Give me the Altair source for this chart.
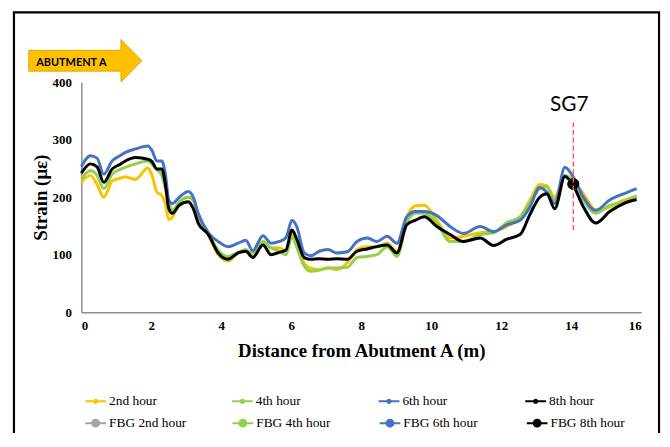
import altair as alt
import pandas as pd

# ---- data ----
distance = [0, 0.26, 0.45, 0.64, 0.88, 1.1, 1.26, 1.55, 1.9, 2.02,
            2.16, 2.3, 2.4, 2.5, 2.6, 2.8, 3.06, 3.2, 3.34, 3.63,
            3.91, 4.19, 4.48, 4.7, 4.9, 5.19, 5.42, 5.66, 5.85, 6.02,
            6.15, 6.37, 6.56, 6.8, 7.05, 7.3, 7.6, 7.88, 8.17, 8.45,
            8.74, 9.02, 9.3, 9.55, 9.8, 10.16, 10.54, 10.92, 11.4, 11.78,
            12.16, 12.54, 12.82, 13.1, 13.3, 13.53, 13.82, 14.06, 14.35, 14.7,
            15.1, 15.5, 15.87]

hour2 = [226, 238, 222, 200, 228, 233, 235, 231, 251, 238,
         209, 203, 189, 161, 165, 190, 200, 195, 167, 135,
         100, 89, 103, 109, 97, 120, 112, 112, 106, 137,
         126, 85, 76, 74, 77, 74, 86, 109, 114, 114,
         120, 106, 165, 185, 186, 160, 129, 132, 138, 140,
         149, 166, 195, 222, 220, 200, 238, 229, 206, 178,
         183, 195, 201]

hour4 = [232, 246, 238, 215, 240, 248, 252, 258, 263, 257,
         248, 238, 215, 192, 177, 192, 200, 195, 170, 138,
         108, 97, 104, 108, 103, 123, 112, 106, 100, 131,
         114, 80, 71, 73, 77, 77, 78, 95, 97, 100,
         114, 97, 155, 172, 172, 155, 123, 123, 135, 138,
         156, 166, 190, 215, 218, 195, 238, 226, 195, 172,
         186, 192, 203]

hour6 = [253, 272, 268, 240, 263, 272, 278, 284, 289, 281,
         263, 263, 241, 195, 189, 200, 210, 200, 172, 138,
         123, 114, 120, 125, 107, 133, 120, 123, 130, 160,
         150, 103, 98, 106, 109, 103, 105, 123, 129, 123,
         132, 120, 166, 175, 175, 168, 149, 137, 149, 140,
         152, 160, 183, 217, 209, 189, 252, 235, 200, 177,
         195, 206, 215]

hour8 = [242, 258, 253, 226, 249, 257, 263, 269, 266, 262,
         249, 249, 223, 180, 172, 186, 192, 180, 155, 135,
         103, 92, 103, 106, 95, 117, 100, 104, 108, 143,
         128, 95, 92, 93, 92, 93, 92, 106, 110, 114,
         117, 103, 152, 160, 166, 149, 135, 123, 129, 116,
         127, 135, 170, 200, 206, 180, 236, 220, 183, 155,
         175, 189, 196]

series_names = ["2nd hour", "4th hour", "6th hour", "8th hour"]
series_colors = ["#FFC000", "#92D050", "#4472C4", "#000000"]

fbg_names = ["FBG 2nd hour", "FBG 4th hour", "FBG 6th hour", "FBG 8th hour"]
fbg_colors = ["#A5A5A5", "#92D050", "#4472C4", "#000000"]
fbg_distance = [14.06, 14.06, 14.06, 14.06]
fbg_strain = [223, 223, 223, 223]

sg_label = ["SG7"]
sg_distance = [14.06]
sg_label_y = [361]
sg_rule_low = [143]
sg_rule_high = [330]

x_ticks = [0, 2, 4, 6, 8, 10, 12, 14, 16]
y_ticks = [0, 100, 200, 300, 400]

# ---- tables ----
rows = []
for name, vals in zip(series_names, [hour2, hour4, hour6, hour8]):
    for d, v in zip(distance, vals):
        rows.append({"distance": d, "strain": v, "series": name})
df = pd.DataFrame(rows)

fbg_df = pd.DataFrame({"distance": fbg_distance, "strain": fbg_strain, "series": fbg_names})
sg_df = pd.DataFrame({"distance": sg_distance, "label": sg_label, "ly": sg_label_y,
                      "y1": sg_rule_low, "y2": sg_rule_high})

SERIF = "Liberation Serif"
SANS = "Lato"

line_sym = "M-1,0H1M-0.15,0a0.15,0.15 0 1,0 0.3,0a0.15,0.15 0 1,0 -0.3,0"
big_sym = "M-1,0H1M-0.33,0a0.33,0.33 0 1,0 0.66,0a0.33,0.33 0 1,0 -0.66,0"

x_enc = alt.X("distance:Q", scale=alt.Scale(domain=[0, 16], nice=False),
              axis=alt.Axis(values=x_ticks, title="Distance from Abutment A (m)",
                            labelPadding=8, titlePadding=9, format="d"))
y_enc = alt.Y("strain:Q", scale=alt.Scale(domain=[0, 400], nice=False),
              axis=alt.Axis(values=y_ticks, title="Strain (με)",
                            labelPadding=10, titlePadding=2, format="d"))

lines = alt.Chart(df).mark_line(strokeWidth=3, interpolate="monotone").encode(
    x=x_enc,
    y=y_enc,
    color=alt.Color("series:N", sort=series_names,
                    scale=alt.Scale(domain=series_names, range=series_colors),
                    legend=alt.Legend(title=None, orient="none", legendX=3, legendY=310.5,
                                      direction="horizontal", columns=4,
                                      symbolType=line_sym, symbolSize=441,
                                      symbolStrokeWidth=2, labelFont=SERIF,
                                      labelFontSize=13.5, labelColor="black",
                                      labelOffset=2, columnPadding=71,
                                      gridAlign="all", padding=0)),
)

fbg_scale = alt.Scale(domain=fbg_names, range=fbg_colors)
fbg_legend = alt.Legend(title=None, orient="none", legendX=3, legendY=332.5,
                        direction="horizontal", columns=4,
                        symbolType=big_sym, symbolSize=441,
                        symbolStrokeWidth=2, labelFont=SERIF,
                        labelFontSize=13.5, labelColor="black",
                        labelOffset=2, columnPadding=41.5,
                        gridAlign="all", padding=0)

fbg = alt.Chart(fbg_df).mark_point(filled=True, size=120, strokeWidth=1, opacity=1).encode(
    x="distance:Q",
    y="strain:Q",
    fill=alt.Fill("series:N", sort=fbg_names, scale=fbg_scale, legend=fbg_legend),
    stroke=alt.Stroke("series:N", sort=fbg_names, scale=fbg_scale, legend=fbg_legend),
)

rule = alt.Chart(sg_df).mark_rule(color="#FF5B5B", strokeDash=[5, 3], strokeWidth=1.5).encode(
    x="distance:Q", y="y1:Q", y2="y2:Q")

sg_text = alt.Chart(sg_df).mark_text(font=SANS, fontSize=21, color="black", dx=-4).encode(
    x="distance:Q", y="ly:Q", text="label:N")

arrow_path = "M-57,-10.5L36,-10.5L36,-21.5L57,0L36,21.5L36,10.5L-57,10.5Z"
arrow = alt.Chart(pd.DataFrame({"k": [0]})).mark_point(
    shape=arrow_path, size=4, filled=True, fill="#FFC000", stroke="#E3A600",
    strokeWidth=1, opacity=1).encode(x=alt.value(4), y=alt.value(-21.7))

arrow_text = alt.Chart(pd.DataFrame({"t": ["ABUTMENT A"]})).mark_text(
    font=SANS, fontWeight="bold", fontSize=11, color="black",
    align="center", baseline="middle").encode(
    x=alt.value(-10), y=alt.value(-19.5), text="t:N")

frame = alt.Chart(pd.DataFrame({"k": [0]})).mark_rect(
    fillOpacity=0, stroke="black", strokeWidth=2.2).encode(
    x=alt.value(-68), x2=alt.value(583), y=alt.value(-70.5), y2=alt.value(365))

chart = alt.layer(frame, lines, fbg, rule, sg_text, arrow, arrow_text).properties(
    width=565, height=232,
    autosize=alt.AutoSizeParams(type="none"),
    padding={"left": 74, "top": 73, "right": 21, "bottom": 120},
).configure_view(stroke=None).configure_axis(
    domainColor="#8C8C8C", domainWidth=1.5, ticks=False, grid=False,
    labelFont=SERIF, labelFontWeight="bold", labelFontSize=13, labelColor="black",
    titleFont=SERIF, titleFontSize=19, titleFontWeight="bold", titleColor="black",
)

chart.save("out.html", embed_options={"renderer": "svg", "actions": False})
